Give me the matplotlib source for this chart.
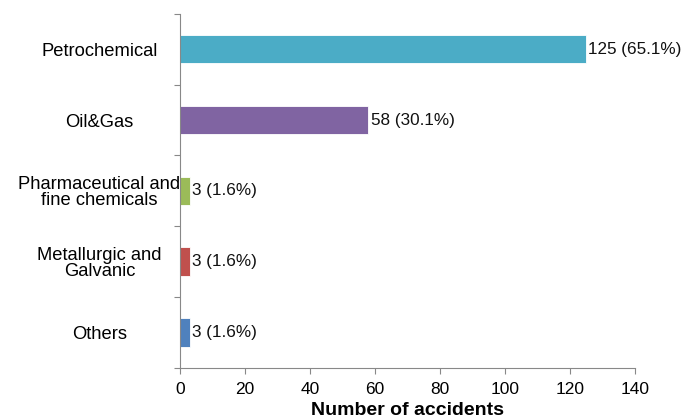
import matplotlib.pyplot as plt
import numpy as np

plt.rcParams['font.family'] = ['Liberation Sans', 'DejaVu Sans']

# categories listed bottom to top
categories = ['Others', 'Metallurgic and\nGalvanic', 'Pharmaceutical and\nfine chemicals',
              'Oil&Gas', 'Petrochemical']
counts = [3, 3, 3, 58, 125]
shares = ['1.6%', '1.6%', '1.6%', '30.1%', '65.1%']
colors = ['#4F81BD', '#C0504D', '#9BBB59', '#8064A2', '#4BACC6']

fig = plt.figure(figsize=(6.84, 4.18), dpi=100)
ax = fig.add_axes([0.263, 0.12, 0.665, 0.847])

y = np.arange(len(categories))
bars = ax.barh(y, counts, height=0.4, color=colors, edgecolor='white', linewidth=0.6)

for yi, c, s in zip(y, counts, shares):
    ax.text(c + 0.7, yi, f'{c} ({s})', va='center', ha='left', fontsize=12.3, color='#111111')

ax.set_xlim(0, 140)
ax.set_ylim(-0.5, len(categories) - 0.5)
ax.set_xticks(np.arange(0, 141, 20))
ax.tick_params(axis='x', labelsize=12.5, length=4, color='#888888', pad=6)

# category labels centered, tick marks at the boundaries
ax.set_yticks(np.arange(-0.5, len(categories), 1))
ax.set_yticklabels([])
ax.tick_params(axis='y', length=4, color='#888888')
ax.set_yticks(y, minor=True)
ax.set_yticklabels(categories, minor=True, fontsize=13.2, ha='center', linespacing=0.95)
ax.tick_params(axis='y', which='minor', length=0, pad=58)

for side in ['top', 'right']:
    ax.spines[side].set_visible(False)
for side in ['left', 'bottom']:
    ax.spines[side].set_color('#888888')

ax.set_xlabel('Number of accidents', fontsize=14, fontweight='bold', labelpad=4)

fig.savefig('out.png', dpi=100)
